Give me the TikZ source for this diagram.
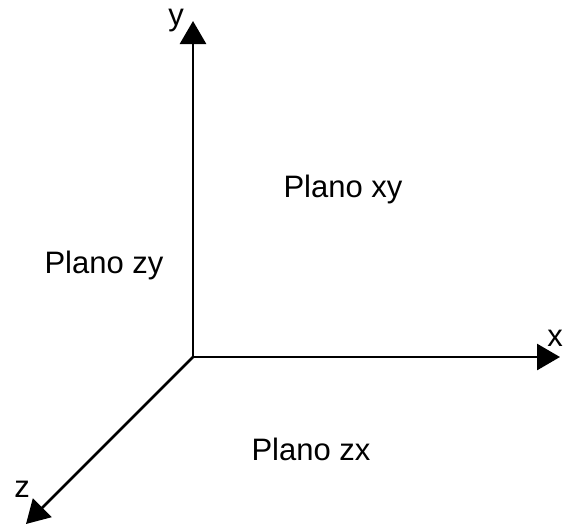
\documentclass[tikz,border=0pt]{standalone}
\usepackage{fontspec}
\setmainfont{Liberation Sans}
\usetikzlibrary{arrows.meta}
\begin{document}
\begin{tikzpicture}[x=1pt,y=-1pt,
  axis/.style={line width=2.8pt,-{Triangle[length=23pt,width=26pt]}},
  lbl/.style={font=\fontsize{31}{36}\selectfont,inner sep=0pt}]
\useasboundingbox (0,0) rectangle (564,525);
\coordinate (o) at (193,357);
\coordinate (ye) at (193,21);
\coordinate (xe) at (560,357);
\coordinate (ze) at (26,524);
\draw[axis] (o) -- (ye);
\draw[axis] (o) -- (xe);
\draw[axis] (o) -- (ze);
\node[lbl] (ly) at (176,21) {y};
\node[lbl] (lx) at (555,338) {x};
\node[lbl] (lz) at (22,489) {z};
\node[lbl] (pxy) at (343,189) {Plano xy};
\node[lbl] (pzy) at (104,265) {Plano zy};
\node[lbl] (pzx) at (311,449) {Plano zx};
\end{tikzpicture}
\end{document}
